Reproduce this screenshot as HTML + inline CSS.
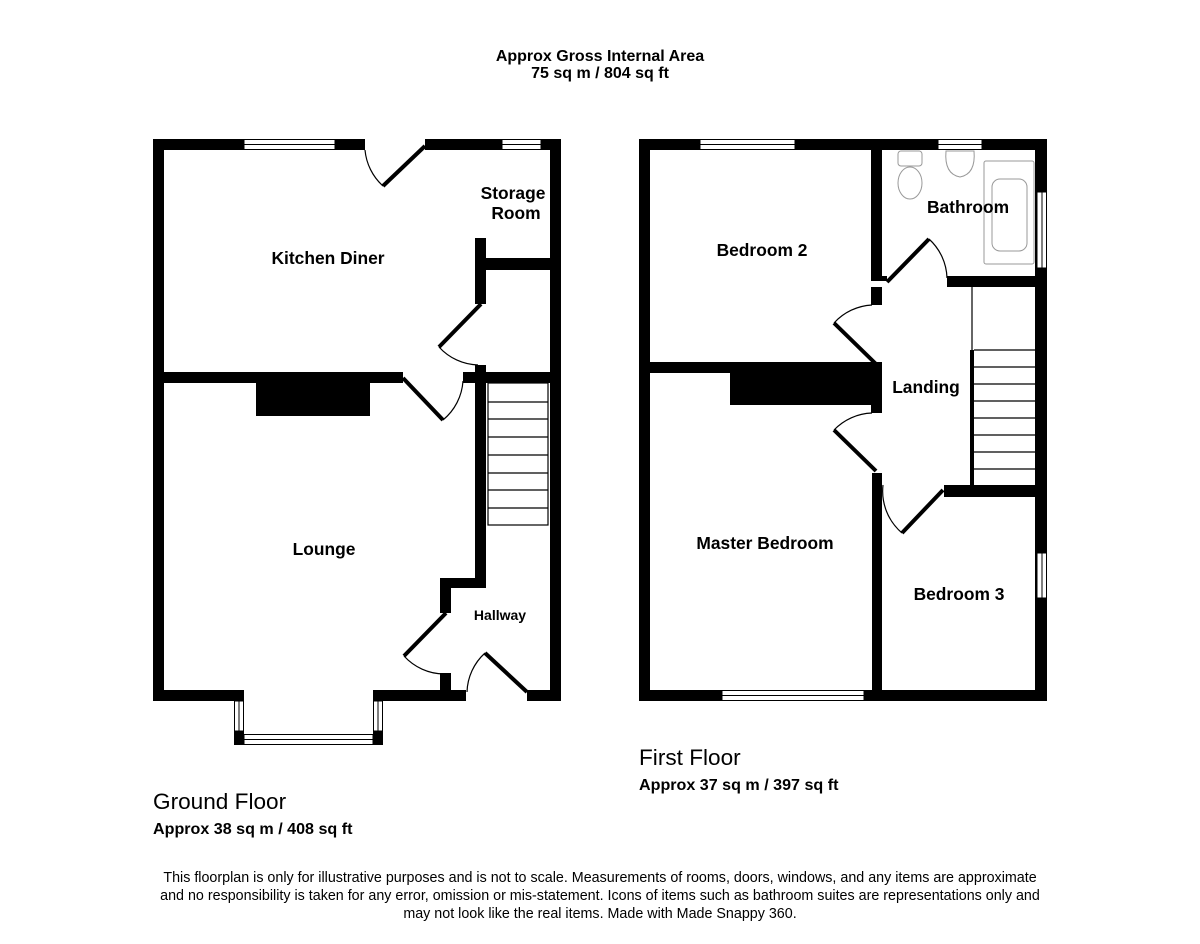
<!DOCTYPE html>
<html><head><meta charset="utf-8"><style>
body{margin:0;background:#fff}
svg{display:block}
text{font-family:"Liberation Sans",Arial,sans-serif;fill:#000}
.b{font-weight:bold}
</style></head><body>
<svg width="1200" height="944" viewBox="0 0 1200 944" xmlns="http://www.w3.org/2000/svg">
<rect width="1200" height="944" fill="#fff"/>
<text x="600" y="61" font-size="16" class="b" text-anchor="middle">Approx Gross Internal Area</text>
<text x="600" y="78" font-size="16" class="b" text-anchor="middle">75 sq m / 804 sq ft</text>

<!-- GROUND FLOOR -->
<g fill="#000">
<rect x="153" y="139" width="212" height="11"/>
<rect x="425" y="139" width="136" height="11"/>
<rect x="153" y="139" width="11" height="562"/>
<rect x="550" y="139" width="11" height="562"/>
<rect x="153" y="690" width="91" height="11"/>
<rect x="373" y="690" width="93" height="11"/>
<rect x="527" y="690" width="34" height="11"/>
<rect x="475" y="238" width="11" height="66"/>
<rect x="486" y="258" width="64" height="12"/>
<rect x="164" y="372" width="239" height="11"/>
<rect x="463" y="372" width="87" height="11"/>
<rect x="475" y="365" width="11" height="223"/>
<rect x="440" y="578" width="46" height="10"/>
<rect x="440" y="578" width="11" height="35"/>
<rect x="440" y="673" width="11" height="20"/>
<rect x="256" y="383" width="114" height="33"/>
<rect x="234" y="731" width="10" height="14"/>
<rect x="373" y="731" width="10" height="14"/>
</g>
<g fill="#fff" stroke="#000" stroke-width="1">
<rect x="244" y="139.5" width="91" height="10"/><line x1="244" y1="144.5" x2="335" y2="144.5"/>
<rect x="502" y="139.5" width="39" height="10"/><line x1="502" y1="144.5" x2="541" y2="144.5"/>
<rect x="234.5" y="701" width="9" height="30"/><line x1="239" y1="701" x2="239" y2="731"/>
<rect x="373.5" y="701" width="9" height="30"/><line x1="378" y1="701" x2="378" y2="731"/>
<rect x="244" y="734.5" width="129" height="10"/><line x1="244" y1="739.5" x2="373" y2="739.5"/>
</g>
<g stroke="#000" stroke-width="1.2" fill="none">
<rect x="488" y="383" width="60" height="142"/>
<line x1="488" y1="402" x2="548" y2="402"/><line x1="488" y1="419" x2="548" y2="419"/>
<line x1="488" y1="437" x2="548" y2="437"/><line x1="488" y1="455" x2="548" y2="455"/>
<line x1="488" y1="473" x2="548" y2="473"/><line x1="488" y1="490" x2="548" y2="490"/>
<line x1="488" y1="508" x2="548" y2="508"/>
</g>
<g stroke="#000" fill="none">
<line x1="425" y1="146" x2="383" y2="186" stroke-width="4"/>
<path d="M365 150 A55 55 0 0 0 383 186" stroke-width="1.2"/>
<line x1="481" y1="304" x2="439" y2="347" stroke-width="4"/>
<path d="M439 347 A55 55 0 0 0 478 365" stroke-width="1.2"/>
<line x1="403" y1="378" x2="443" y2="420" stroke-width="4"/>
<path d="M443 420 A55 55 0 0 0 463 381" stroke-width="1.2"/>
<line x1="446" y1="613" x2="404" y2="656" stroke-width="4"/>
<path d="M404 656 A55 55 0 0 0 444 674" stroke-width="1.2"/>
<line x1="527" y1="692" x2="485" y2="653" stroke-width="4"/>
<path d="M485 653 A55 55 0 0 0 467 692" stroke-width="1.2"/>
</g>
<g font-size="17.4" text-anchor="middle">
<text x="328" y="264" class="b">Kitchen Diner</text>
<text x="513" y="199" class="b">Storage</text>
<text x="516" y="219" class="b">Room</text>
<text x="324" y="555" class="b">Lounge</text>
<text x="500" y="620" font-size="14" class="b">Hallway</text>
</g>
<text x="153" y="809" font-size="22.6">Ground Floor</text>
<text x="153" y="834" font-size="16.1" class="b">Approx 38 sq m / 408 sq ft</text>

<!-- FIRST FLOOR -->
<g fill="#000">
<rect x="639" y="139" width="408" height="11"/>
<rect x="639" y="139" width="11" height="562"/>
<rect x="1035" y="139" width="12" height="562"/>
<rect x="639" y="690" width="408" height="11"/>
<rect x="871" y="150" width="11" height="127"/>
<rect x="871" y="287" width="11" height="18"/>
<rect x="871" y="276" width="16" height="5"/>
<rect x="947" y="276" width="88" height="11"/>
<rect x="650" y="362" width="232" height="11"/>
<rect x="730" y="373" width="152" height="32"/>
<rect x="871" y="362" width="11" height="51"/>
<rect x="872" y="473" width="10" height="228"/>
<rect x="944" y="485" width="91" height="12"/>
<rect x="970" y="350" width="4" height="136"/>
</g>
<g fill="#fff" stroke="#000" stroke-width="1">
<rect x="700" y="139.5" width="95" height="10"/><line x1="700" y1="144.5" x2="795" y2="144.5"/>
<rect x="938" y="139.5" width="44" height="10"/><line x1="938" y1="144.5" x2="982" y2="144.5"/>
<rect x="1037" y="192" width="9.5" height="76"/><line x1="1042" y1="192" x2="1042" y2="268"/>
<rect x="1037" y="553" width="9.5" height="45"/><line x1="1042" y1="553" x2="1042" y2="598"/>
<rect x="722" y="690.5" width="142" height="10"/><line x1="722" y1="695.5" x2="864" y2="695.5"/>
</g>
<g stroke="#000" stroke-width="1.2" fill="none">
<line x1="972" y1="287" x2="972" y2="350"/>
<line x1="974" y1="350" x2="1035" y2="350"/><line x1="974" y1="367" x2="1035" y2="367"/>
<line x1="974" y1="384" x2="1035" y2="384"/><line x1="974" y1="401" x2="1035" y2="401"/>
<line x1="974" y1="418" x2="1035" y2="418"/><line x1="974" y1="435" x2="1035" y2="435"/>
<line x1="974" y1="452" x2="1035" y2="452"/><line x1="974" y1="469" x2="1035" y2="469"/>
</g>
<g stroke="#000" fill="none">
<line x1="887" y1="282" x2="929" y2="239" stroke-width="4"/>
<path d="M929 239 A55 55 0 0 1 947 278" stroke-width="1.2"/>
<line x1="834" y1="323" x2="876" y2="364" stroke-width="4"/>
<path d="M834 323 A55 55 0 0 1 872 305" stroke-width="1.2"/>
<line x1="834" y1="430" x2="876" y2="471" stroke-width="4"/>
<path d="M834 430 A55 55 0 0 1 872 413" stroke-width="1.2"/>
<line x1="943" y1="490" x2="902" y2="533" stroke-width="4"/>
<path d="M902 533 A55 55 0 0 1 883 485" stroke-width="1.2"/>
</g>
<g stroke="#999" stroke-width="1" fill="#fff">
<rect x="898" y="151" width="24" height="15" rx="3"/>
<ellipse cx="910" cy="183" rx="12" ry="16"/>
<path d="M946 151 L974 151 Q976 174 960 177 Q944 174 946 151Z"/>
<rect x="984" y="161" width="50" height="103" rx="2"/>
<rect x="992" y="179" width="35" height="72" rx="8"/>
</g>
<g font-size="17.4" text-anchor="middle">
<text x="762" y="256" class="b">Bedroom 2</text>
<text x="968" y="213" class="b">Bathroom</text>
<text x="926" y="393" class="b">Landing</text>
<text x="765" y="549" class="b">Master Bedroom</text>
<text x="959" y="600" class="b">Bedroom 3</text>
</g>
<text x="639" y="765" font-size="22.6">First Floor</text>
<text x="639" y="790" font-size="16.1" class="b">Approx 37 sq m / 397 sq ft</text>

<g font-size="14.3" text-anchor="middle">
<text x="600" y="882">This floorplan is only for illustrative purposes and is not to scale. Measurements of rooms, doors, windows, and any items are approximate</text>
<text x="600" y="900">and no responsibility is taken for any error, omission or mis-statement. Icons of items such as bathroom suites are representations only and</text>
<text x="600" y="918">may not look like the real items. Made with Made Snappy 360.</text>
</g>
</svg>
</body></html>
